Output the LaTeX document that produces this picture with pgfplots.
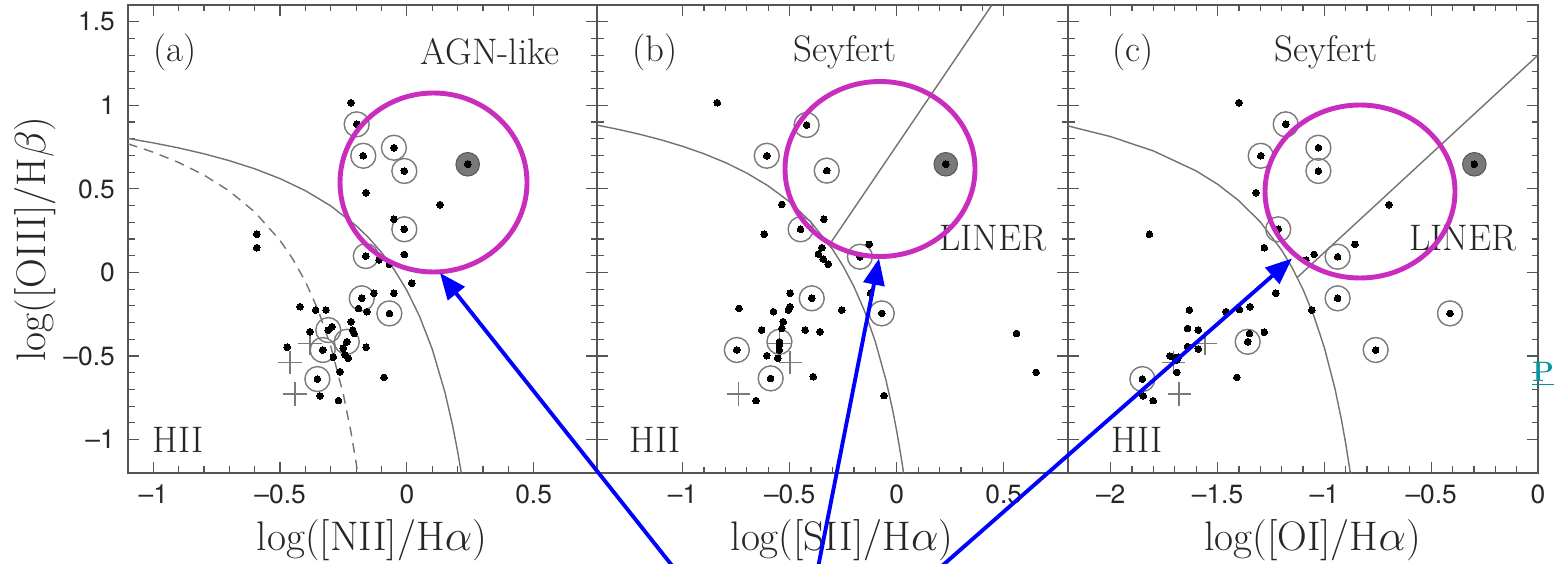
\documentclass[border=0pt]{standalone}
\usepackage{fontspec}
\setsansfont{TeX Gyre Heros}
\usepackage{pgfplots}
\pgfplotsset{compat=1.18}
\usepackage{pgfplotstable}
\usetikzlibrary{arrows.meta}

\definecolor{axgray}{HTML}{555555}
\definecolor{curvegray}{HTML}{727272}
\definecolor{circgray}{HTML}{7A7A7A}
\definecolor{txtgray}{HTML}{262626}
\definecolor{magen}{HTML}{C82DBE}
\definecolor{tealP}{HTML}{0096A0}

% ---------- panel (a) ----------
\pgfplotstableread{
x y
-0.221 1.015
-0.161 0.477
0.131 0.405
-0.051 0.318
-0.592 0.228
-0.592 0.148
-0.110 0.074
-0.069 0.049
-0.010 0.108
0.019 -0.065
-0.130 -0.125
-0.051 -0.125
-0.191 -0.215
-0.158 -0.235
-0.421 -0.205
-0.360 -0.225
-0.319 -0.225
-0.296 -0.325
-0.220 -0.295
-0.214 -0.345
-0.208 -0.365
-0.382 -0.355
-0.472 -0.448
-0.251 -0.454
-0.244 -0.494
-0.231 -0.514
-0.290 -0.508
-0.161 -0.448
-0.264 -0.594
-0.090 -0.628
-0.343 -0.739
-0.270 -0.767
}\dA
\pgfplotstableread{
x y
-0.198 0.886
-0.172 0.698
-0.051 0.746
-0.010 0.607
-0.010 0.258
-0.162 0.098
-0.178 -0.155
-0.069 -0.245
-0.310 -0.345
-0.237 -0.415
-0.332 -0.464
-0.353 -0.638
}\cA
\pgfplotstableread{
x y
0.240 0.647
}\gA
\pgfplotstableread{
x y
-0.382 -0.424
-0.461 -0.540
-0.441 -0.727
}\pA

% ---------- panel (b) ----------
\pgfplotstableread{
x y
-0.838 1.015
-0.537 0.407
-0.340 0.318
-0.619 0.228
-0.350 0.148
-0.366 0.110
-0.343 0.080
-0.320 0.049
-0.128 0.168
-0.498 -0.125
-0.498 -0.205
-0.506 -0.225
-0.737 -0.215
-0.576 -0.235
-0.257 -0.225
-0.122 -0.125
-0.530 -0.295
-0.537 -0.335
-0.631 -0.345
-0.428 -0.345
-0.358 -0.355
-0.548 -0.434
-0.548 -0.464
-0.607 -0.498
-0.556 -0.514
-0.390 -0.624
-0.657 -0.767
-0.059 -0.737
0.560 -0.365
0.651 -0.598
}\dB
\pgfplotstableread{
x y
-0.421 0.882
-0.607 0.698
-0.327 0.609
-0.449 0.258
-0.172 0.094
-0.397 -0.155
-0.070 -0.245
-0.548 -0.415
-0.747 -0.464
-0.589 -0.634
}\cB
\pgfplotstableread{
x y
0.229 0.647
}\gB
\pgfplotstableread{
x y
-0.548 -0.424
-0.498 -0.538
-0.740 -0.727
}\pB

% ---------- panel (c) ----------
\pgfplotstableread{
x y
-1.400 1.015
-1.320 0.477
-0.697 0.405
-1.819 0.228
-1.281 0.148
-1.048 0.108
-1.086 0.074
-0.857 0.168
-1.228 -0.125
-1.059 -0.225
-1.632 -0.225
-1.460 -0.235
-1.398 -0.221
-1.348 -0.205
-1.640 -0.335
-1.590 -0.345
-1.640 -0.444
-1.590 -0.458
-1.351 -0.365
-1.281 -0.358
-1.723 -0.500
-1.700 -0.514
-1.684 -0.508
-1.691 -0.524
-1.691 -0.598
-1.410 -0.628
-1.848 -0.739
-1.801 -0.767
}\dC
\pgfplotstableread{
x y
-1.181 0.886
-1.298 0.698
-1.028 0.746
-1.028 0.607
-1.216 0.258
-0.938 0.094
-0.938 -0.155
-0.412 -0.245
-0.760 -0.464
-1.359 -0.415
-1.852 -0.638
}\cC
\pgfplotstableread{
x y
-0.298 0.647
}\gC
\pgfplotstableread{
x y
-1.559 -0.424
-1.707 -0.540
-1.680 -0.727
}\pC

\newcommand\rl{\fontsize{21}{25}\selectfont}

\pgfplotsset{
  bpt/.style={
    scale only axis, width=9.40cm, height=9.36cm, anchor=south west,
    ymin=-1.2, ymax=1.6,
    ytick={-1,-0.5,0,0.5,1,1.5},
    minor x tick num=4, minor y tick num=4,
    tick align=inside, tick pos=both,
    major tick length=0.22cm, minor tick length=0.13cm,
    axis line style={axgray, line width=0.8pt},
    tick style={axgray, line width=0.7pt},
    tick label style={font=\sffamily\fontsize{15}{17}\selectfont, text=txtgray},
    xticklabel style={yshift=-3pt},
    yticklabel style={xshift=-4pt},
    label style={font=\fontsize{23.5}{28}\selectfont, text=txtgray},
    xlabel style={at={(axis description cs:0.52,-0.143)}, anchor=center},
    clip=true,
  },
  dotst/.style={only marks, mark=*, mark size=1.9pt, mark options={fill=black, draw=black, line width=0pt}},
  circst/.style={only marks, mark=o, mark size=7.1pt, mark options={draw=circgray, line width=0.8pt}},
  grayst/.style={only marks, mark=*, mark size=6.7pt, mark options={fill=gray!95!black, draw=gray!70!black, line width=0.6pt}},
  plusst/.style={only marks, mark=+, mark size=6.6pt, mark options={draw=circgray, line width=0.8pt}},
  curvest/.style={curvegray, line width=0.8pt},
}

\begin{document}
\begin{tikzpicture}
\useasboundingbox (0,0) rectangle (31.1cm,11.26cm);

% ===== (a) =====
\begin{axis}[bpt, at={(2.56cm,1.8cm)}, width=9.38cm,
  xmin=-1.1, xmax=0.75,
  xtick={-1,-0.5,0,0.5}, xticklabels={–1,–0.5,0,0.5},
  yticklabels={–1,–0.5,0,0.5,1,1.5},
  xlabel={log([NII]/H$\alpha$)},
  ylabel={log([OIII]/H$\beta$)},
  ylabel style={at={(axis description cs:-0.198,0.5)}, anchor=center},
]
\addplot[curvest] coordinates {(-1.1,0.8015) (-1.0,0.775) (-0.9,0.7447) (-0.8,0.7097) (-0.7,0.6686) (-0.6,0.6199) (-0.5,0.5611) (-0.4,0.4889) (-0.3,0.3978) (-0.2,0.2796) (-0.15,0.2061) (-0.1,0.1198) (-0.05,0.0169) (0.0,-0.1079) (0.05,-0.2624) (0.1,-0.4586) (0.15,-0.7163) (0.18,-0.9134) (0.2,-1.0693) (0.215,-1.2022)};
\addplot[curvest, dash pattern=on 5.5pt off 4pt] coordinates {(-1.1,0.7696) (-1.0,0.7190) (-0.9,0.6579) (-0.8,0.5824) (-0.7,0.4867) (-0.6,0.3615) (-0.5,0.1909) (-0.45,0.08) (-0.4,-0.0556) (-0.35,-0.225) (-0.3,-0.4429) (-0.25,-0.7333) (-0.22,-0.9593) (-0.2,-1.14) (-0.194,-1.2)};
\addplot[plusst] table {\pA};
\addplot[circst] table {\cA};
\addplot[grayst] table {\gA};
\addplot[dotst] table {\dA};
\addplot[dotst] table {\cA};
\addplot[dotst] table {\gA};
\node[text=txtgray, font=\rl] at (axis cs:-0.915,1.319) {(a)};
\node[text=txtgray, font=\rl] at (axis cs:0.328,1.319) {AGN-like};
\node[text=txtgray, font=\rl] at (axis cs:-0.903,-1.003) {HII};
\end{axis}

% ===== (b) =====
\begin{axis}[bpt, at={(11.94cm,1.8cm)}, width=9.42cm,
  xmin=-1.4, xmax=0.8,
  xtick={-1,-0.5,0,0.5}, xticklabels={–1,–0.5,0,0.5},
  yticklabels={},
  xlabel={log([SII]/H$\alpha$)},
]
\addplot[curvest] coordinates {(-1.4,0.8814) (-1.3,0.8556) (-1.2,0.8263) (-1.1,0.7930) (-1.0,0.7545) (-0.9,0.7098) (-0.8,0.6571) (-0.7,0.5941) (-0.6,0.5174) (-0.5,0.4220) (-0.4,0.3) (-0.3,0.1387) (-0.25,0.0368) (-0.2,-0.0846) (-0.15,-0.2319) (-0.1,-0.4143) (-0.05,-0.6459) (-0.02,-0.8176) (0.0,-0.95) (0.02,-1.1) (0.032,-1.2)};
\addplot[curvest] coordinates {(-0.3146,0.1654) (0.4444,1.6)};
\addplot[plusst] table {\pB};
\addplot[circst] table {\cB};
\addplot[grayst] table {\gB};
\addplot[dotst] table {\dB};
\addplot[dotst] table {\cB};
\addplot[dotst] table {\gB};
\node[text=txtgray, font=\rl] at (axis cs:-1.129,1.319) {(b)};
\node[text=txtgray, font=\rl] at (axis cs:-0.242,1.319) {Seyfert};
\node[text=txtgray, font=\rl] at (axis cs:0.450,0.206) {LINER};
\node[text=txtgray, font=\rl] at (axis cs:-1.129,-1.003) {HII};
\end{axis}

% ===== (c) =====
\begin{axis}[bpt, at={(21.36cm,1.8cm)}, width=9.40cm,
  xmin=-2.2, xmax=0,
  xtick={-2,-1.5,-1,-0.5,0}, xticklabels={–2,–1.5,–1,–0.5,0},
  yticklabels={},
  xlabel={log([OI]/H$\alpha$)},
]
\addplot[curvest] coordinates {(-2.2,0.8766) (-2.0,0.8123) (-1.8,0.7267) (-1.6,0.6072) (-1.5,0.5278) (-1.4,0.4288) (-1.3,0.3018) (-1.2,0.1333) (-1.15,0.0264) (-1.1,-0.1014) (-1.05,-0.2570) (-1.0,-0.4505) (-0.95,-0.6978) (-0.92,-0.8821) (-0.9,-1.0248) (-0.8785,-1.2003)};
\addplot[curvest] coordinates {(-1.1269,-0.0297) (0,1.30)};
\addplot[plusst] table {\pC};
\addplot[circst] table {\cC};
\addplot[grayst] table {\gC};
\addplot[dotst] table {\dC};
\addplot[dotst] table {\cC};
\addplot[dotst] table {\gC};
\node[text=txtgray, font=\rl] at (axis cs:-1.896,1.319) {(c)};
\node[text=txtgray, font=\rl] at (axis cs:-0.992,1.319) {Seyfert};
\node[text=txtgray, font=\rl] at (axis cs:-0.351,0.206) {LINER};
\node[text=txtgray, font=\rl] at (axis cs:-1.877,-1.003) {HII};
\end{axis}

% ===== annotations =====
\draw[magen, line width=2.8pt] (8.67cm,7.61cm) ellipse [x radius=1.87cm, y radius=1.79cm];
\draw[magen, line width=2.8pt] (17.6cm,7.88cm) ellipse [x radius=1.9cm, y radius=1.75cm];
\draw[magen, line width=2.8pt] (27.2cm,7.43cm) ellipse [x radius=1.9cm, y radius=1.73cm];

\draw[blue, line width=2.2pt, -{Triangle[length=15pt,width=12pt]}] (13.86cm,-0.58cm) -- (8.8cm,5.8cm);
\draw[blue, line width=2.2pt, -{Triangle[length=15pt,width=12pt]}] (16.26cm,-0.6cm) -- (17.58cm,6.09cm);
\draw[blue, line width=2.2pt, -{Triangle[length=15pt,width=12pt]}] (18.2cm,-0.62cm) -- (25.84cm,6.09cm);

\node[anchor=base west, inner sep=0pt, text=tealP, font=\bfseries\fontsize{16}{19}\selectfont] at (30.64cm,3.62cm) {\underline{P}};
\end{tikzpicture}
\end{document}
